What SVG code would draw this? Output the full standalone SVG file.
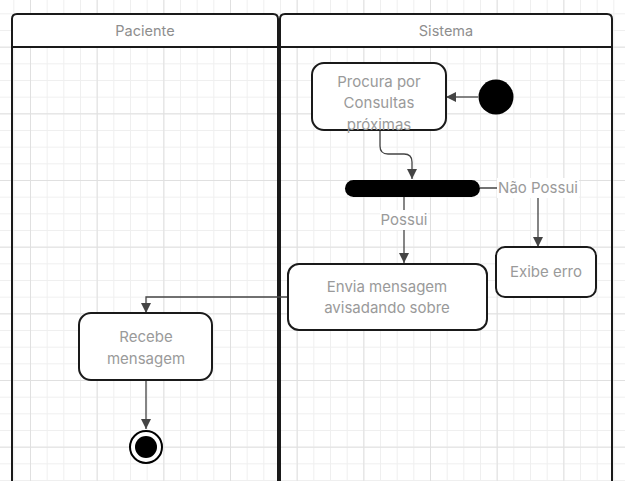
<svg xmlns="http://www.w3.org/2000/svg" width="625" height="481" viewBox="0 0 625 481">
<defs>
<pattern id="minor" patternUnits="userSpaceOnUse" x="13.333" y="13.333" width="16.667" height="16.667">
<path d="M0.5,0 V16.667 M0,0.5 H16.667" fill="none" stroke="#efefef" stroke-width="1"/>
</pattern>
<pattern id="major" patternUnits="userSpaceOnUse" x="30" y="46.667" width="66.667" height="66.667">
<path d="M0.5,0 V66.667 M0,0.5 H66.667" fill="none" stroke="#e0e0e0" stroke-width="1"/>
</pattern>
<marker id="arr" viewBox="0 0 10 10" refX="10" refY="5" markerWidth="10" markerHeight="10" markerUnits="userSpaceOnUse" orient="auto">
<path d="M0,0 L10,5 L0,10 Z" fill="#444"/>
</marker>
<style>
.lane{fill:none;stroke:#1a1a1a;stroke-width:2}
.hdr{fill:#fff;stroke:none}
.box{fill:#fff;stroke:#1a1a1a;stroke-width:2}
.t{font-family:Inter,"Liberation Sans",sans-serif;font-size:15px;fill:#9a9a9a;text-anchor:middle}
.h{font-family:Inter,"Liberation Sans",sans-serif;font-size:14.5px;fill:#8e8e8e;text-anchor:middle}
.c{fill:none;stroke:#444;stroke-width:1.3}
.lbg{fill:#fff}
</style>
</defs>
<rect width="625" height="481" fill="#fff"/>
<rect width="625" height="481" fill="url(#minor)"/>
<rect width="625" height="481" fill="url(#major)"/>

<g id="lane-paciente">
<path class="hdr" d="M12,47 V19 Q12,14 17,14 H273 Q278,14 278,19 V47 Z"/>
<path class="lane" d="M12,485 V19 Q12,14 17,14 H273 Q278,14 278,19 V485 M12,47 H278"/>
<text class="h" x="145" y="36">Paciente</text>
</g>
<g id="lane-sistema">
<path class="hdr" d="M280,47 V19 Q280,14 285,14 H607 Q612,14 612,19 V47 Z"/>
<path class="lane" d="M280,485 V19 Q280,14 285,14 H607 Q612,14 612,19 V485 M280,47 H612"/>
<text class="h" x="446" y="36">Sistema</text>
</g>

<g id="connectors">
<path class="c" d="M478,97 H446" marker-end="url(#arr)"/>
<path class="c" d="M380,130 V146 Q380,154 388,154 H404 Q412,154 412,162 V179" marker-end="url(#arr)"/>
<path class="c" d="M404,197 V263" marker-end="url(#arr)"/>
<path class="c" d="M480,188 H538 V247" marker-end="url(#arr)"/>
<path class="c" d="M288,297 H146 V313" marker-end="url(#arr)"/>
<path class="c" d="M146,380 V429" marker-end="url(#arr)"/>
<rect class="lbg" x="380" y="210" width="48" height="20"/>
<text class="t" x="404" y="225">Possui</text>
<rect class="lbg" x="497" y="178" width="82" height="20"/>
<text class="t" x="538" y="193">Não Possui</text>
</g>

<g id="start">
<circle cx="496" cy="97" r="17.5" fill="#000"/>
</g>
<g id="procura">
<rect class="box" x="312" y="63" width="134" height="67" rx="12"/>
<text class="t" x="379" y="87">Procura por</text>
<text class="t" x="379" y="108">Consultas</text>
<text class="t" x="379" y="130">próximas</text>
</g>
<g id="fork">
<rect x="345" y="180" width="135" height="17" rx="8.5" fill="#000"/>
</g>
<g id="exibe-erro">
<rect class="box" x="496" y="247" width="100" height="50" rx="9"/>
<text class="t" x="546" y="277">Exibe erro</text>
</g>
<g id="envia">
<rect class="box" x="288" y="264" width="199" height="66" rx="11"/>
<text class="t" x="387" y="292">Envia mensagem</text>
<text class="t" x="387" y="313">avisadando sobre</text>
</g>
<g id="recebe">
<rect class="box" x="79" y="313" width="133" height="67" rx="12"/>
<text class="t" x="146" y="342">Recebe</text>
<text class="t" x="146" y="364">mensagem</text>
</g>
<g id="end">
<circle cx="146" cy="447" r="16" fill="#fff" stroke="#000" stroke-width="2"/>
<circle cx="146" cy="447" r="11" fill="#000"/>
</g>
</svg>
